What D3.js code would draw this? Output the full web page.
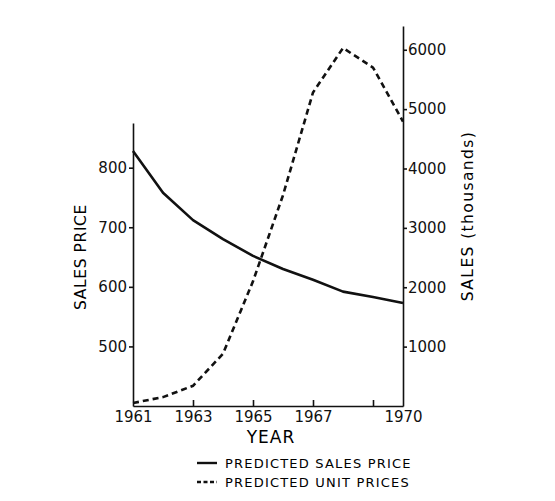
<!DOCTYPE html>
<html>
<head>
<meta charset="utf-8">
<script src="https://cdn.jsdelivr.net/npm/d3@7"></script>
<style>
  body { margin: 0; background: #fff; }
  svg { font-family: "DejaVu Sans", sans-serif; }
  .axis path, .axis line { stroke: #111; stroke-width: 1.6; }
  .axis text { font-size: 15px; fill: #111; font-family: "DejaVu Sans", sans-serif; }
</style>
</head>
<body>
<script>
// chart values
const years = [1961, 1962, 1963, 1964, 1965, 1966, 1967, 1968, 1969, 1970];
const salesPrice = [828, 758, 712, 680, 652, 630, 612, 592, 583, 573];
const unitSales = [50, 150, 340, 880, 2100, 3550, 5280, 6030, 5700, 4790];
const yearLabels = [1961, 1963, 1965, 1967, 1970];
const yearTicks = [1963, 1965, 1967, 1969];
const priceTicks = [500, 600, 700, 800];
const salesTicks = [1000, 2000, 3000, 4000, 5000, 6000];
const legendLabels = ["PREDICTED SALES PRICE", "PREDICTED UNIT PRICES"];

const w = 555, h = 501;
const svg = d3.select("body").append("svg").attr("width", w).attr("height", h);

const x = d3.scaleLinear().domain([1961, 1970]).range([133, 403]);
const yLeft = d3.scaleLinear().domain([400, 875]).range([406, 123]);
const yRight = d3.scaleLinear().domain([0, 6400]).range([406, 26]);

// x axis: small inner ticks, then the labels
svg.append("g").attr("class", "axis")
    .attr("transform", "translate(0,406)")
    .call(d3.axisBottom(x).tickValues(yearTicks).tickSizeInner(-6).tickSizeOuter(0).tickFormat(""));
svg.append("g").attr("class", "axis labels")
    .attr("transform", "translate(0,406)")
    .call(d3.axisBottom(x).tickValues(yearLabels).tickSize(0).tickPadding(5).tickFormat(d3.format("d")))
    .call(g => g.select(".domain").remove());

svg.append("g").attr("class", "axis")
    .attr("transform", "translate(133,0)")
    .call(d3.axisLeft(yLeft).tickValues(priceTicks).tickSizeInner(4).tickSizeOuter(0).tickPadding(2));

svg.append("g").attr("class", "axis")
    .attr("transform", "translate(403,0)")
    .call(d3.axisRight(yRight).tickValues(salesTicks).tickSizeInner(4).tickSizeOuter(0).tickPadding(1)
        .tickFormat(d3.format("d")));

// axis titles
svg.append("text")
    .attr("transform", "translate(86,257) rotate(-90)")
    .attr("text-anchor", "middle")
    .style("font-size", "15.5px").style("letter-spacing", "0.6px")
    .text("SALES  PRICE");
svg.append("text")
    .attr("transform", "translate(473,216) rotate(-90)")
    .attr("text-anchor", "middle")
    .style("font-size", "15.5px").style("letter-spacing", "1.4px")
    .text("SALES  (thousands)");
svg.append("text")
    .attr("x", 271).attr("y", 443)
    .attr("text-anchor", "middle")
    .style("font-size", "17px").style("letter-spacing", "1px")
    .text("YEAR");

// series
const priceLine = d3.line().x((d, i) => x(years[i])).y(d => yLeft(d));
const salesLine = d3.line().x((d, i) => x(years[i])).y(d => yRight(d));

svg.append("path").datum(salesPrice)
    .attr("d", priceLine)
    .attr("fill", "none").attr("stroke", "#111").attr("stroke-width", 2.6)
    .attr("stroke-linejoin", "round");
svg.append("path").datum(unitSales)
    .attr("d", salesLine)
    .attr("fill", "none").attr("stroke", "#111").attr("stroke-width", 2.6)
    .attr("stroke-dasharray", "6,4");

// legend
const legend = svg.append("g").attr("transform", "translate(197,463)");
legendLabels.forEach((label, i) => {
    const row = legend.append("g").attr("transform", "translate(0," + (i * 19) + ")");
    row.append("line").attr("x1", 0).attr("x2", 20).attr("y1", 0).attr("y2", 0)
        .attr("stroke", "#111").attr("stroke-width", 2.4)
        .attr("stroke-dasharray", i === 0 ? null : "4,2.5");
    row.append("text").attr("x", 28).attr("y", 5)
        .style("font-size", "13px").style("letter-spacing", "1.2px")
        .text(label);
});
</script>
</body>
</html>
